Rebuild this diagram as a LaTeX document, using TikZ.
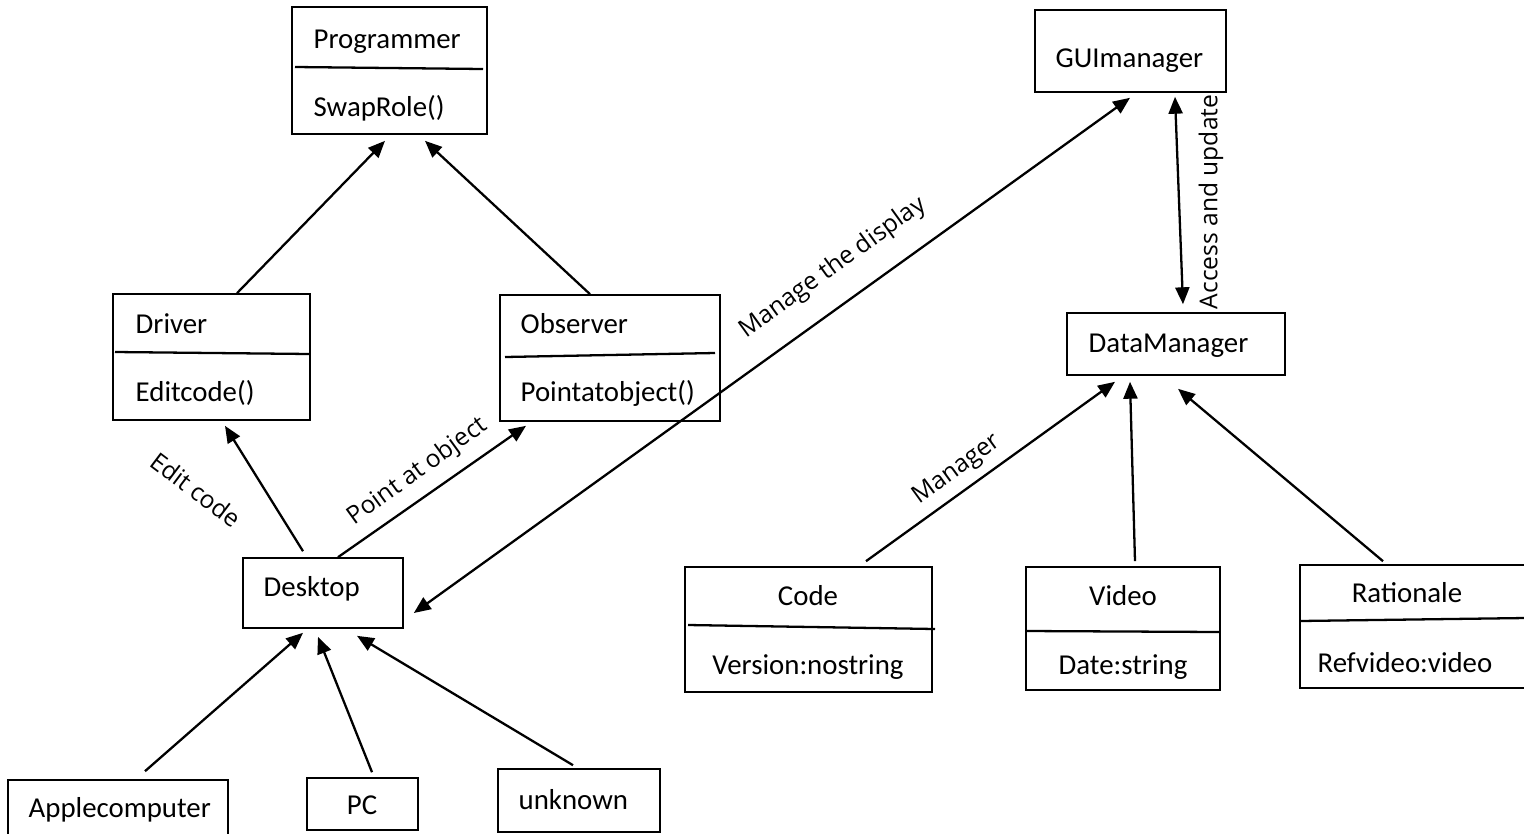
\documentclass[tikz,border=0pt]{standalone}
\usepackage{fontspec}
\setmainfont{Carlito}
\newfontfamily\lblfont{Open Sans}
\usetikzlibrary{arrows.meta,calc}

\begin{document}
\begin{tikzpicture}[x=0.01cm, y=-0.01cm,
        box/.style={draw=black, line width=0.45pt, inner sep=0pt},
        txt/.style={inner sep=0pt, font=\fontsize{8.2}{9.8}\selectfont},
        lbl/.style={inner sep=0pt, font=\lblfont\fontsize{7}{8.4}\selectfont},
        divider/.style={line width=0.65pt},
        arr/.style={line width=0.65pt, -{Triangle[length=4.8pt,width=4pt]}},
        darr/.style={line width=0.65pt, {Triangle[length=4.8pt,width=4pt]}-{Triangle[length=4.8pt,width=4pt]}}]
        \useasboundingbox (0,0) rectangle (1524,833);

        \node[box, minimum width=1.95cm, minimum height=1.27cm] (prog) at (389.5,70.5) {};
        \node[box, minimum width=1.97cm, minimum height=1.26cm] (drv) at (211.5,357) {};
        \node[box, minimum width=2.20cm, minimum height=1.26cm] (obs) at (610,358) {};
        \node[box, minimum width=1.60cm, minimum height=0.70cm] (desk) at (323,593) {};
        \node[box, minimum width=2.20cm, minimum height=0.62cm] (apple) at (118,811) {};
        \node[box, minimum width=1.11cm, minimum height=0.52cm] (pc) at (362.5,804) {};
        \node[box, minimum width=1.62cm, minimum height=0.63cm] (unk) at (579,800.5) {};
        \node[box, minimum width=1.91cm, minimum height=0.82cm] (gui) at (1130.5,51) {};
        \node[box, minimum width=2.18cm, minimum height=0.62cm] (dm) at (1176,344) {};
        \node[box, minimum width=2.47cm, minimum height=1.25cm] (code) at (808.5,629.5) {};
        \node[box, minimum width=1.94cm, minimum height=1.23cm] (vid) at (1123,628.5) {};
        \node[box, minimum width=2.28cm, minimum height=1.23cm] (rat) at (1414,626.5) {};

        \draw[divider] (295,67) -- (483,69);
        \draw[divider] (115,352) -- (310,354);
        \draw[divider] (505,357) -- (715,353);
        \draw[divider] (688,625) -- (935,629);
        \draw[divider] (1026,631) -- (1220,632);
        \draw[divider] (1300,621) -- (1526,618);

        \node[txt, anchor=base west] (progname) at (313,48) {Programmer};
        \node[txt, anchor=base west] (progop) at (313,116) {SwapRole()};
        \node[txt, anchor=base west] (drvname) at (135,333) {Driver};
        \node[txt, anchor=base west] (drvop) at (135,401) {Editcode()};
        \node[txt, anchor=base west] (obsname) at (520,333) {Observer};
        \node[txt, anchor=base west] (obsop) at (520,401) {Pointatobject()};
        \node[txt, anchor=base west] (deskname) at (263,596) {Desktop};
        \node[txt, anchor=base west] (applename) at (28,817) {Applecomputer};
        \node[txt, anchor=base] (pcname) at (362,814) {PC};
        \node[txt, anchor=base west] (unkname) at (518,809) {unknown};
        \node[txt, anchor=base west] (guiname) at (1055,67) {GUImanager};
        \node[txt, anchor=base west] (dmname) at (1088,352) {DataManager};
        \node[txt, anchor=base] (codename) at (808,605) {Code};
        \node[txt, anchor=base] (codeattr) at (808,674) {Version:nostring};
        \node[txt, anchor=base] (vidname) at (1123,605) {Video};
        \node[txt, anchor=base] (vidattr) at (1123,674) {Date:string};
        \node[txt, anchor=base] (ratname) at (1407,602) {Rationale};
        \node[txt, anchor=base] (ratattr) at (1405,672) {Refvideo:video};

        \draw[arr] ($(drv.north)+(25.5,0)$) -- ($(prog.south)+(-4.5,6)$);
        \draw[arr] ($(obs.north)+(-20,0)$) -- ($(prog.south)+(35.5,6)$);

        \draw[arr] ($(desk.north)+(-20,-6)$) -- ($(drv.south)+(13.5,5)$);
        \draw[arr] ($(desk.north)+(15,0)$) -- ($(obs.south)+(-84,4)$);
        \draw[darr] ($(desk.east)+(10,20)$) -- ($(gui.south)+(-0.5,5)$);

        \draw[arr] ($(apple.north)+(27,-8)$) -- ($(desk.south)+(-20,4)$);
        \draw[arr] ($(pc.north)+(9.5,-5)$) -- ($(desk.south)+(-5,8)$);
        \draw[arr] ($(unk.north)+(-6,-3)$) -- ($(desk.south)+(34,7)$);

        \draw[darr] ($(gui.south)+(44.5,4)$) -- ($(dm.north)+(7,-8)$);

        \draw[arr] ($(code.north)+(57.5,-5)$) -- ($(dm.south)+(-61,6)$);
        \draw[arr] ($(vid.north)+(12,-5)$) -- ($(dm.south)+(-46,6)$);
        \draw[arr] ($(rat.north)+(-31,-3)$) -- ($(dm.south)+(2,13)$);

        \node[lbl, rotate=-37] (editlbl) at (196,490) {Edit code};
        \node[lbl, rotate=35.9] (pointlbl) at (418,472) {Point at object};
        \node[lbl, rotate=35.8] (displbl) at (833,268) {Manage the display};
        \node[lbl, rotate=90] (acclbl) at (1211,202) {Access and update};
        \node[lbl, rotate=36] (mgrlbl) at (957,470) {Manager};
    \end{tikzpicture}
\end{document}
